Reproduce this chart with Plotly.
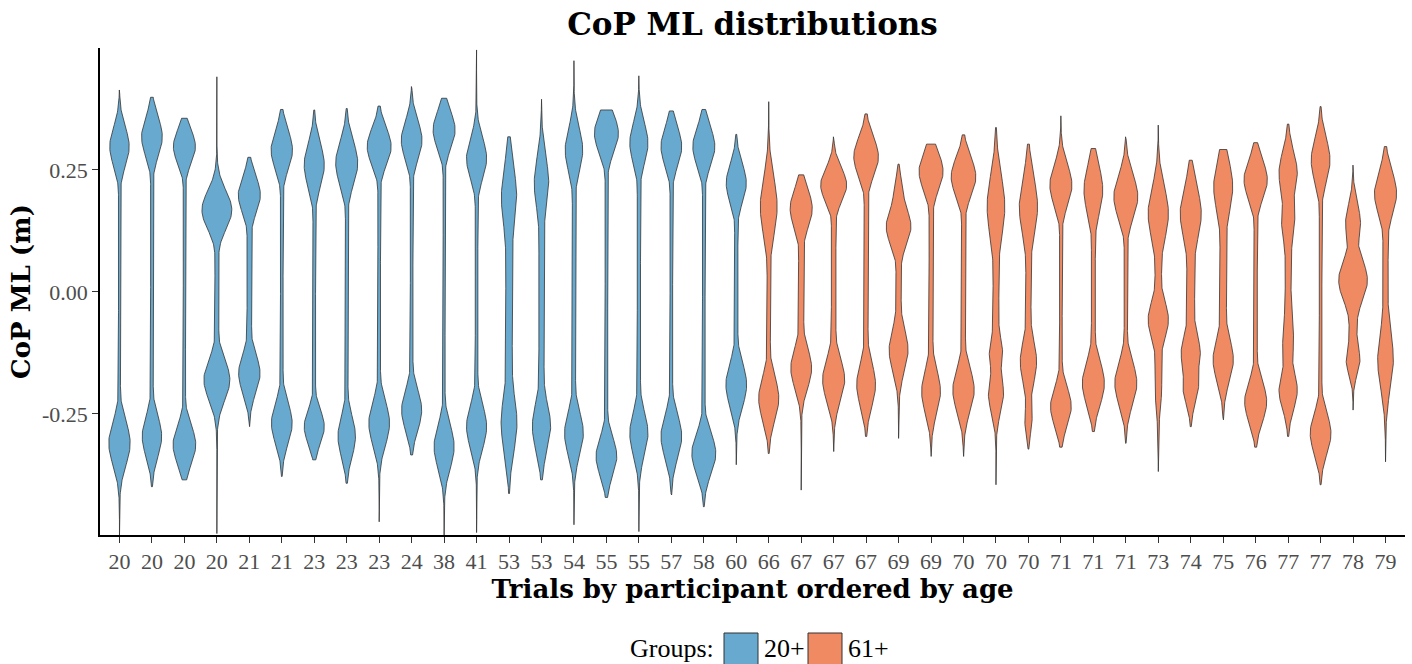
import numpy as np
import plotly.graph_objects as go

# tick labels (participant age, one violin per trial set)
ages = ["20", "20", "20", "20", "21", "21", "23", "23", "23", "24",
        "38", "41", "53", "53", "54", "55", "55", "57", "58", "60",
        "66", "67", "67", "67", "69", "69", "70", "70", "70", "71",
        "71", "71", "73", "74", "75", "76", "77", "77", "78", "79"]
groups = ["20+"] * 20 + ["61+"] * 20

# range of each distribution (m)
lows = [-0.500, -0.399, -0.385, -0.495, -0.276, -0.378, -0.344, -0.392, -0.471, -0.334,
        -0.500, -0.493, -0.413, -0.385, -0.477, -0.421, -0.491, -0.416, -0.440, -0.354,
        -0.331, -0.406, -0.327, -0.296, -0.300, -0.337, -0.337, -0.395, -0.322, -0.318,
        -0.286, -0.310, -0.368, -0.276, -0.262, -0.318, -0.296, -0.395, -0.242, -0.348]
highs = [0.414, 0.399, 0.356, 0.441, 0.276, 0.374, 0.373, 0.376, 0.381, 0.421,
         0.397, 0.496, 0.318, 0.395, 0.474, 0.373, 0.443, 0.371, 0.374, 0.323,
         0.390, 0.240, 0.318, 0.365, 0.262, 0.303, 0.322, 0.337, 0.303, 0.361,
         0.294, 0.318, 0.342, 0.270, 0.292, 0.306, 0.344, 0.380, 0.260, 0.298]

# density modes of each violin: (centre, half width in category units, spread)
modes = [
    [(0.298, 0.30, 0.040), (-0.310, 0.33, 0.045)],
    [(0.318, 0.32, 0.040), (-0.296, 0.30, 0.042)],
    [(0.298, 0.34, 0.035), (-0.313, 0.35, 0.040)],
    [(0.168, 0.46, 0.040), (-0.180, 0.40, 0.042)],
    [(0.199, 0.34, 0.038), (-0.167, 0.33, 0.040)],
    [(0.291, 0.33, 0.040), (-0.269, 0.32, 0.042)],
    [(0.260, 0.31, 0.045), (-0.276, 0.31, 0.035)],
    [(0.264, 0.34, 0.045), (-0.296, 0.27, 0.042)],
    [(0.298, 0.37, 0.038), (-0.269, 0.32, 0.045)],
    [(0.311, 0.32, 0.040), (-0.242, 0.31, 0.042)],
    [(0.332, 0.34, 0.038), (-0.317, 0.31, 0.045)],
    [(0.274, 0.31, 0.042), (-0.276, 0.31, 0.045)],
    [(0.195, 0.23, 0.065), (-0.269, 0.24, 0.060)],
    [(0.223, 0.22, 0.055), (-0.276, 0.28, 0.050)],
    [(0.291, 0.27, 0.045), (-0.290, 0.29, 0.045)],
    [(0.325, 0.37, 0.040), (-0.337, 0.32, 0.040)],
    [(0.305, 0.28, 0.042), (-0.290, 0.28, 0.045)],
    [(0.298, 0.32, 0.040), (-0.296, 0.32, 0.045)],
    [(0.298, 0.34, 0.040), (-0.331, 0.37, 0.042)],
    [(0.223, 0.31, 0.040), (-0.190, 0.32, 0.045)],
    [(0.175, 0.26, 0.060), (-0.218, 0.31, 0.045)],
    [(0.171, 0.34, 0.040), (-0.156, 0.32, 0.042)],
    [(0.219, 0.40, 0.035), (-0.180, 0.34, 0.045)],
    [(0.277, 0.38, 0.040), (-0.190, 0.29, 0.045)],
    [(0.134, 0.38, 0.040), (0.200, 0.14, 0.030), (-0.119, 0.29, 0.045)],
    [(0.247, 0.37, 0.040), (-0.204, 0.29, 0.045)],
    [(0.236, 0.38, 0.040), (-0.201, 0.33, 0.045)],
    [(0.175, 0.27, 0.065), (-0.126, 0.20, 0.035), (-0.208, 0.23, 0.040)],
    [(0.175, 0.28, 0.060), (-0.143, 0.25, 0.045), (-0.262, 0.10, 0.025)],
    [(0.219, 0.34, 0.042), (-0.235, 0.32, 0.040)],
    [(0.209, 0.29, 0.050), (-0.187, 0.34, 0.045)],
    [(0.195, 0.37, 0.045), (-0.187, 0.34, 0.045)],
    [(0.161, 0.31, 0.055), (-0.057, 0.31, 0.040), (-0.200, 0.06, 0.060)],
    [(0.161, 0.32, 0.055), (-0.126, 0.29, 0.040), (-0.194, 0.23, 0.035)],
    [(0.216, 0.29, 0.055), (-0.139, 0.31, 0.045)],
    [(0.230, 0.36, 0.040), (-0.225, 0.34, 0.042)],
    [(0.243, 0.28, 0.045), (0.148, 0.20, 0.045), (-0.100, 0.16, 0.050), (-0.201, 0.28, 0.040)],
    [(0.270, 0.29, 0.045), (-0.290, 0.32, 0.042)],
    [(0.024, 0.44, 0.045), (0.141, 0.22, 0.040), (-0.139, 0.20, 0.030)],
    [(0.202, 0.34, 0.045), (-0.139, 0.24, 0.060)],
]
# half width of the thin neck joining the modes
necks = [0.03, 0.04, 0.035, 0.06, 0.07, 0.04, 0.04, 0.04, 0.04, 0.04,
         0.03, 0.04, 0.10, 0.08, 0.05, 0.04, 0.05, 0.04, 0.04, 0.05,
         0.05, 0.08, 0.07, 0.06, 0.08, 0.06, 0.06, 0.09, 0.08, 0.04,
         0.06, 0.05, 0.10, 0.12, 0.10, 0.05, 0.09, 0.04, 0.12, 0.08]

colors = {"20+": "#67A9CF", "61+": "#EF8A62"}

# layout geometry (px)
W, H = 1412, 664
ML, MR, MT, MB = 100, 7, 48, 129
PW, PH = W - ML - MR, H - MT - MB


def px_x(X):
    return (X - ML) / PW


def px_y(Y):
    return (H - MB - Y) / PH


def outline(lo, hi, mlist, neck):
    y = np.linspace(lo, hi, 300)
    parts = []
    for c, hw, s in mlist:
        parts.append(hw * np.exp(-0.5 * ((y - c) / s) ** 2))
    cs = [m[0] for m in mlist]
    d = np.clip(np.maximum(min(cs) - y, y - max(cs)), 0, None)
    parts.append(neck * np.exp(-0.5 * (d / 0.03) ** 2))
    w = np.sum(np.array(parts) ** 3, axis=0) ** (1 / 3)
    return y, w


fig = go.Figure()

for i in range(len(ages)):
    y, w = outline(lows[i], highs[i], modes[i], necks[i])
    xs = np.concatenate([i + w, (i - w)[::-1], [i + w[0]]])
    ys = np.concatenate([y, y[::-1], [y[0]]])
    fig.add_trace(go.Scatter(
        x=xs, y=ys,
        mode="lines",
        fill="toself",
        fillcolor=colors[groups[i]],
        line=dict(color="#333333", width=0.8),
        name=groups[i],
        showlegend=False,
        hoverinfo="skip"
    ))

tick_font = dict(family="Liberation Serif", size=22, color="#4D4D4D")
bold_font = dict(family="DejaVu Serif", size=26, color="black", weight="bold")

fig.update_layout(
    width=W, height=H,
    margin=dict(l=ML, r=MR, t=MT, b=MB),
    plot_bgcolor="white",
    paper_bgcolor="white",
    showlegend=False,
    title=dict(
        text="CoP ML distributions",
        x=0.5, xref="paper", xanchor="center",
        y=1 - 24 / H, yref="container", yanchor="middle",
        font=dict(family="DejaVu Serif", size=31, color="black", weight="bold")
    ),
    xaxis=dict(
        range=[-0.6, len(ages) - 0.4],
        tickvals=list(range(len(ages))),
        ticktext=ages,
        tickfont=tick_font,
        ticks="outside", ticklen=6, tickcolor="#333333", tickwidth=1,
        showline=True, linecolor="black", linewidth=1.5,
        showgrid=False, zeroline=False, automargin=False,
        title=dict(text="Trials by participant ordered by age", font=bold_font, standoff=2)
    ),
    yaxis=dict(
        range=[-0.498, 0.5],
        tickvals=[-0.25, 0, 0.25],
        ticktext=["-0.25", "0.00", "0.25"],
        tickfont=tick_font,
        ticks="outside", ticklen=6, tickcolor="#333333", tickwidth=1,
        showline=True, linecolor="black", linewidth=1.5,
        showgrid=False, zeroline=False, automargin=False,
        title=dict(text="CoP ML (m)", font=bold_font, standoff=4)
    ),
)

# legend drawn below the axis title
leg_font = dict(family="Liberation Serif", size=26, color="black")
leg_y = 648
fig.add_annotation(x=px_x(716), y=px_y(leg_y), xref="paper", yref="paper",
                   text="Groups:", showarrow=False, xanchor="right", yanchor="middle",
                   font=leg_font)
for g, x0 in zip(["20+", "61+"], [724, 808]):
    fig.add_shape(type="rect", xref="paper", yref="paper",
                  x0=px_x(x0), x1=px_x(x0 + 34), y0=px_y(670), y1=px_y(633),
                  fillcolor=colors[g], line=dict(color="#333333", width=1))
    fig.add_annotation(x=px_x(x0 + 38), y=px_y(leg_y), xref="paper", yref="paper",
                       text=g, showarrow=False, xanchor="left", yanchor="middle",
                       font=leg_font)

# the page's default body margin would push the figure off by 8px
fig.write_html("out.html",
               config={"displayModeBar": False},
               post_script="document.body.style.margin='0';document.body.style.overflow='hidden';")
